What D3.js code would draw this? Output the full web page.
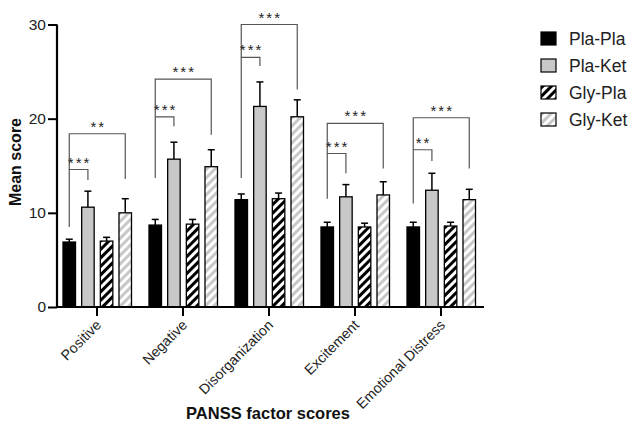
<!DOCTYPE html>
<html>
<head>
<meta charset="utf-8">
<script src="https://cdn.jsdelivr.net/npm/d3@7"></script>
<style>
  body { margin: 0; background: #fff; }
  svg { font-family: "Liberation Sans", Arial, sans-serif; }
</style>
</head>
<body>
<div id="chart"></div>
<script>
// categories + series
var categories = ['Positive', 'Negative', 'Disorganization', 'Excitement', 'Emotional Distress'];
var series = ['Pla-Pla', 'Pla-Ket', 'Gly-Pla', 'Gly-Ket'];

// means per series (one value per category)
var plaPla = [6.9, 8.7, 11.4, 8.5, 8.5];
var plaKet = [10.6, 15.7, 21.3, 11.7, 12.4];
var glyPla = [7.0, 8.8, 11.5, 8.5, 8.6];
var glyKet = [10.0, 14.9, 20.2, 11.9, 11.4];

// upper end of the error bars
var plaPlaErr = [7.2, 9.3, 12.0, 9.0, 9.0];
var plaKetErr = [12.3, 17.5, 23.9, 13.0, 14.2];
var glyPlaErr = [7.4, 9.3, 12.1, 8.9, 9.0];
var glyKetErr = [11.5, 16.7, 22.0, 13.3, 12.5];

// significance brackets (Pla-Pla vs Pla-Ket, Pla-Pla vs Gly-Ket)
var legBottom = [8.5, 13.7, 13.7, 11.5, 11.0];
var brk1Top = [14.6, 20.2, 26.5, 16.3, 16.7];
var brk1End = [13.5, 19.2, 25.6, 14.2, 15.5];
var brk1Label = ['***', '***', '***', '***', '**'];
var brk2Top = [18.4, 24.2, 30.0, 19.5, 20.1];
var brk2End = [13.6, 18.3, 23.1, 14.7, 14.7];
var brk2Label = ['**', '***', '***', '***', '***'];

var yTicks = [0, 10, 20, 30];

var means = [plaPla, plaKet, glyPla, glyKet];
var errs = [plaPlaErr, plaKetErr, glyPlaErr, glyKetErr];

var W = 630, H = 441;
var svg = d3.select('#chart').append('svg').attr('width', W).attr('height', H);

var defs = svg.append('defs');
function hatch(id, color) {
    var p = defs.append('pattern').attr('id', id)
        .attr('patternUnits', 'userSpaceOnUse')
        .attr('width', 6).attr('height', 6)
        .attr('patternTransform', 'rotate(45)');
    p.append('rect').attr('width', 6).attr('height', 6).attr('fill', '#fff');
    p.append('rect').attr('width', 3).attr('height', 6).attr('fill', color);
}
hatch('hatchBlack', '#000');
hatch('hatchGray', '#c8c8c8');

var fills = ['#000', '#c8c8c8', 'url(#hatchBlack)', 'url(#hatchGray)'];

var y = d3.scaleLinear().domain([0, 30]).range([307, 24.5]);
var x0 = d3.scaleBand().domain(categories).range([54, 484]);
var x1 = d3.scaleBand().domain(series).range([9, 77.5]).paddingInner(0.33);

// bars
var rows = [];
categories.forEach(function(c, i) {
    series.forEach(function(s, j) {
        rows.push({cat: c, ser: s, j: j, v: means[j][i], e: errs[j][i]});
    });
});

var g = svg.append('g');
// error bars first so the bar outline covers the base
g.selectAll('line.err').data(rows).enter().append('line')
    .attr('x1', function(d) { return x0(d.cat) + x1(d.ser) + x1.bandwidth() / 2; })
    .attr('x2', function(d) { return x0(d.cat) + x1(d.ser) + x1.bandwidth() / 2; })
    .attr('y1', function(d) { return y(d.v); })
    .attr('y2', function(d) { return y(d.e); })
    .attr('stroke', '#000').attr('stroke-width', 1.5);
g.selectAll('line.cap').data(rows).enter().append('line')
    .attr('x1', function(d) { return x0(d.cat) + x1(d.ser) + x1.bandwidth() / 2 - 3.5; })
    .attr('x2', function(d) { return x0(d.cat) + x1(d.ser) + x1.bandwidth() / 2 + 3.5; })
    .attr('y1', function(d) { return y(d.e); })
    .attr('y2', function(d) { return y(d.e); })
    .attr('stroke', '#000').attr('stroke-width', 1.5);
g.selectAll('rect.bar').data(rows).enter().append('rect')
    .attr('x', function(d) { return x0(d.cat) + x1(d.ser); })
    .attr('width', x1.bandwidth())
    .attr('y', function(d) { return y(d.v); })
    .attr('height', function(d) { return y(0) - y(d.v); })
    .attr('fill', function(d) { return fills[d.j]; })
    .attr('stroke', '#000').attr('stroke-width', 1.3);

// brackets
var bg = svg.append('g').attr('fill', 'none').attr('stroke', '#555').attr('stroke-width', 1.2);
function cx(cat, s) { return x0(cat) + x1(s) + x1.bandwidth() / 2; }
function stars(xm, yv, label) {
    svg.append('text').attr('x', xm + 1).attr('y', y(yv) - 2)
        .attr('text-anchor', 'middle').attr('font-size', 15).attr('letter-spacing', 2)
        .attr('fill', '#222').text(label);
}
categories.forEach(function(c, i) {
    var xl = cx(c, 'Pla-Pla'), xa = cx(c, 'Pla-Ket'), xb = cx(c, 'Gly-Ket');
    bg.append('path').attr('d', 'M' + xl + ',' + y(legBottom[i]) + 'V' + y(brk1Top[i]) + 'H' + xa + 'V' + y(brk1End[i]));
    bg.append('path').attr('d', 'M' + xl + ',' + y(brk1Top[i]) + 'V' + y(brk2Top[i]) + 'H' + xb + 'V' + y(brk2End[i]));
    stars((xl + xa) / 2, brk1Top[i], brk1Label[i]);
    stars((xl + xb) / 2, brk2Top[i], brk2Label[i]);
});

// y axis
var yAxis = svg.append('g').attr('transform', 'translate(57,0)')
    .call(d3.axisLeft(y).tickValues(yTicks).tickSize(9).tickPadding(2));
yAxis.select('.domain').attr('stroke-width', 2.2).attr('d', 'M0,' + y(30) + 'V' + y(0));
yAxis.selectAll('.tick line').attr('stroke-width', 2);
yAxis.selectAll('.tick text').attr('font-size', 15.5).attr('fill', '#222')
    .attr('font-family', '"Liberation Sans", Arial, sans-serif');

// x axis
var xAxis = svg.append('g').attr('transform', 'translate(0,307)')
    .call(d3.axisBottom(x0).tickSize(9).tickSizeOuter(0));
xAxis.select('.domain').attr('stroke-width', 2.2).attr('d', 'M56,0H484');
xAxis.selectAll('.tick line').attr('stroke-width', 2);
xAxis.selectAll('.tick text')
    .attr('font-size', 14.2).attr('fill', '#222')
    .attr('font-family', '"Liberation Sans", Arial, sans-serif')
    .attr('text-anchor', 'end')
    .attr('dy', null).attr('y', 0)
    .attr('transform', 'translate(5,19) rotate(-45)');

// axis titles
svg.append('text').attr('transform', 'translate(21,162) rotate(-90)')
    .attr('text-anchor', 'middle').attr('font-size', 16).attr('font-weight', 'bold')
    .attr('fill', '#111').text('Mean score');
svg.append('text').attr('x', 268).attr('y', 419)
    .attr('text-anchor', 'middle').attr('font-size', 16.5).attr('font-weight', 'bold')
    .attr('fill', '#111').text('PANSS factor scores');

// legend
var lg = svg.append('g').attr('transform', 'translate(541,32)');
var li = lg.selectAll('g').data(series).enter().append('g')
    .attr('transform', function(d, i) { return 'translate(0,' + i * 27 + ')'; });
li.append('rect').attr('width', 15).attr('height', 13)
    .attr('fill', function(d, i) { return fills[i]; })
    .attr('stroke', '#000').attr('stroke-width', 1.2);
li.append('text').attr('x', 28).attr('y', 13).attr('font-size', 17.5).attr('fill', '#222')
    .text(function(d) { return d; });
</script>
</body>
</html>
